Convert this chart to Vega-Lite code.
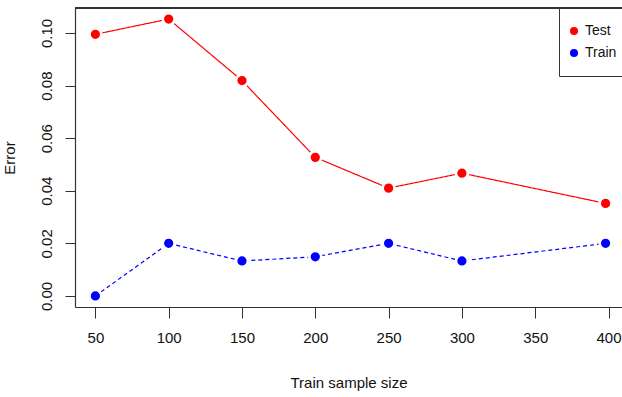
{
  "$schema": "https://vega.github.io/schema/vega-lite/v6.json",
  "autosize": "none",
  "width": 547,
  "height": 299,
  "padding": {"left": 75, "top": 8, "right": 0, "bottom": 90},
  "background": "white",
  "config": {
    "view": {"stroke": null},
    "font": "Liberation Sans",
    "axis": {"labelFont": "Liberation Sans", "titleFont": "Liberation Sans", "labelColor": "#111", "titleColor": "#111", "domainColor": "#333", "tickColor": "#333", "grid": false, "titleFontWeight": "normal"}
  },
  "data": {
    "values": [
      {"size": 50, "error": 0.0995, "series": "Test"},
      {"size": 100, "error": 0.1053, "series": "Test"},
      {"size": 150, "error": 0.0819, "series": "Test"},
      {"size": 200, "error": 0.0527, "series": "Test"},
      {"size": 250, "error": 0.041, "series": "Test"},
      {"size": 300, "error": 0.0467, "series": "Test"},
      {"size": 398, "error": 0.0352, "series": "Test"},
      {"size": 50, "error": 0.0, "series": "Train"},
      {"size": 100, "error": 0.02, "series": "Train"},
      {"size": 150, "error": 0.0133, "series": "Train"},
      {"size": 200, "error": 0.0149, "series": "Train"},
      {"size": 250, "error": 0.02, "series": "Train"},
      {"size": 300, "error": 0.0133, "series": "Train"},
      {"size": 398, "error": 0.02, "series": "Train"}
    ]
  },
  "layer": [
    {
      "mark": {"type": "line", "strokeWidth": 1.2},
      "encoding": {
        "x": {"field": "size", "type": "quantitative"},
        "y": {"field": "error", "type": "quantitative"},
        "color": {"field": "series", "type": "nominal"},
        "strokeDash": {"field": "series", "type": "nominal", "legend": null, "scale": {"domain": ["Test", "Train"], "range": [[1, 0], [4, 3]]}}
      }
    },
    {
      "mark": {"type": "point", "filled": true, "opacity": 1, "size": 140, "stroke": "white", "strokeWidth": 2.6, "shape": "circle"},
      "encoding": {
        "x": {
          "field": "size", "type": "quantitative",
          "scale": {"domain": [36.1, 409.2], "nice": false, "zero": false},
          "axis": {"values": [50, 100, 150, 200, 250, 300, 350, 400], "format": "d", "title": "Train sample size", "labelFontSize": 15, "titleFontSize": 15, "tickSize": 11, "labelPadding": 12, "titlePadding": 30, "labelFlush": false, "domainWidth": 1.2}
        },
        "y": {
          "field": "error", "type": "quantitative",
          "scale": {"domain": [-0.0042, 0.1095], "nice": false, "zero": false},
          "axis": {"values": [0, 0.02, 0.04, 0.06, 0.08, 0.1], "format": ".2f", "title": "Error", "labelFontSize": 15, "titleFontSize": 15, "tickSize": 10, "labelAngle": -90, "labelAlign": "center", "labelBaseline": "bottom", "labelPadding": 11, "titlePadding": 22, "labelFlush": false, "domainWidth": 1.2}
        },
        "color": {
          "field": "series", "type": "nominal",
          "scale": {"domain": ["Test", "Train"], "range": ["#ff0000", "#0000ff"]},
          "legend": {"orient": "none", "legendX": 484, "legendY": 0, "title": null, "strokeColor": "#333", "fillColor": "white", "padding": 16, "rowPadding": 8, "labelFontSize": 14, "labelFont": "Liberation Sans", "labelColor": "#111", "symbolSize": 64, "symbolStrokeWidth": 0, "symbolType": "circle", "symbolOffset": -8, "labelOffset": 4}
        }
      }
    },
    {
      "mark": {"type": "rule", "color": "#333", "strokeWidth": 1.2},
      "encoding": {
        "y": {"datum": 0.1095}
      }
    }
  ]
}
